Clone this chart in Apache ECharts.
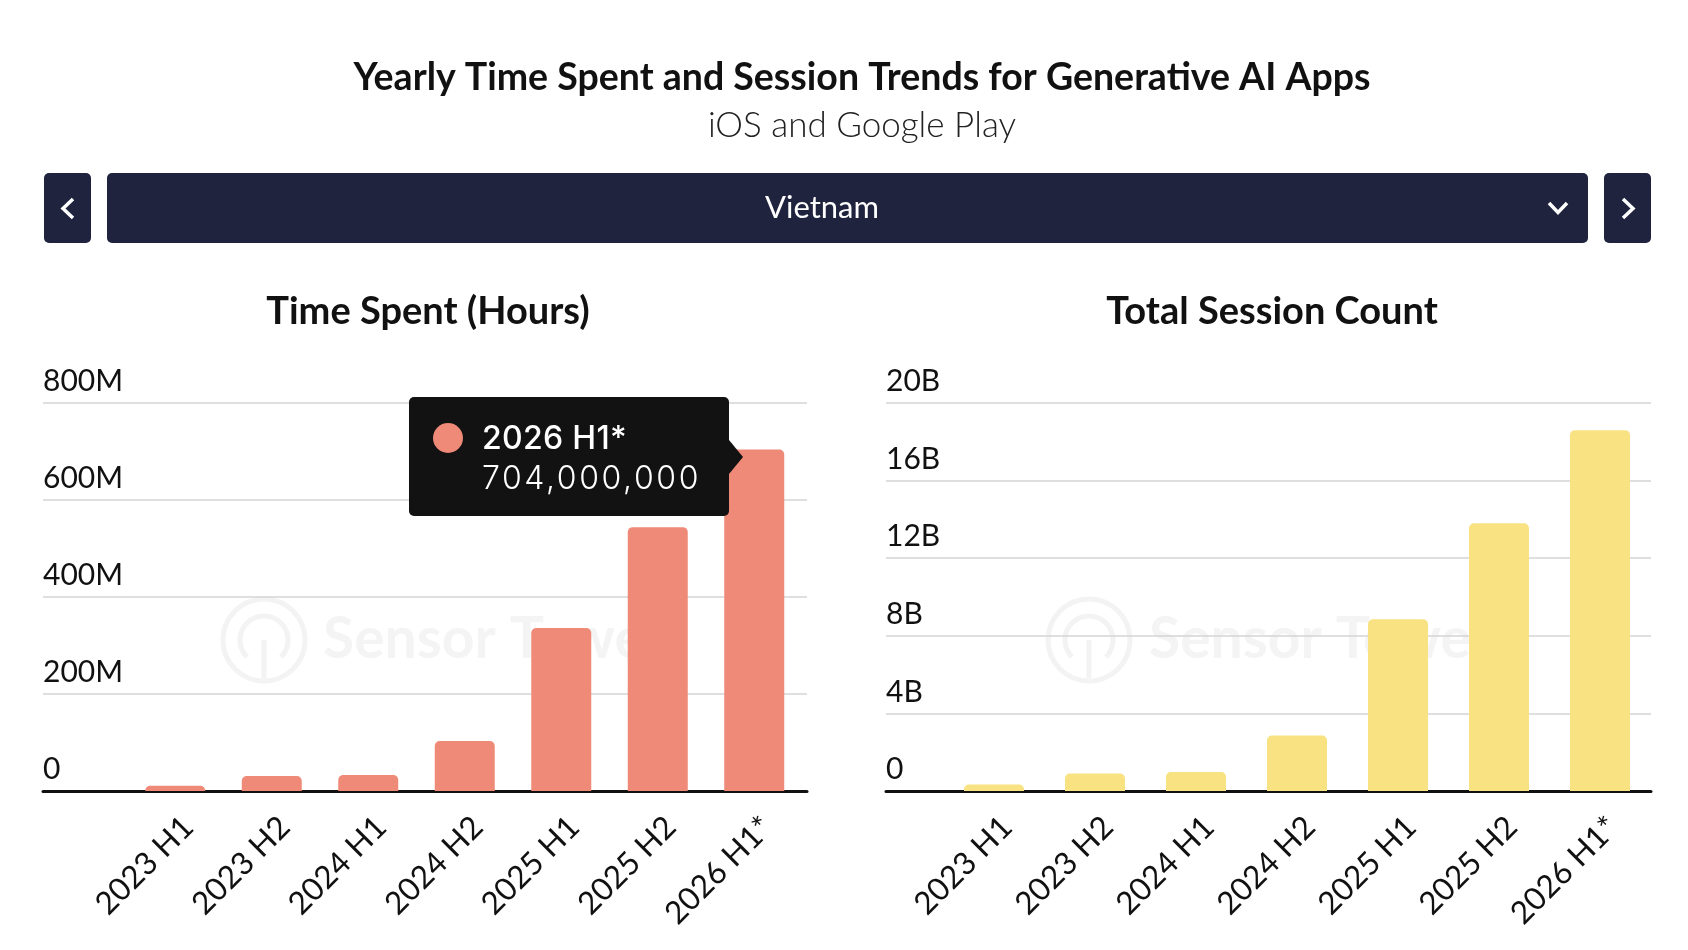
<!DOCTYPE html>
<html>
<head>
<meta charset="utf-8">
<script src="https://cdn.jsdelivr.net/npm/echarts@6/dist/echarts.min.js"></script>
<style>
html,body{margin:0;padding:0;background:#fff;}
#chart{width:1688px;height:950px;}
</style>
</head>
<body>
<div id="chart"></div>
<script>
// ---- data ----
const categories = ['2023 H1', '2023 H2', '2024 H1', '2024 H2', '2025 H1', '2025 H2', '2026 H1*'];
const timeSpentHours = [11e6, 31e6, 33e6, 103e6, 336e6, 544e6, 704e6];
const sessionCount = [0.33e9, 0.9e9, 0.98e9, 2.86e9, 8.85e9, 13.8e9, 18.6e9];
const timeAxis = { min: 0, max: 800e6, interval: 200e6 };
const sessionAxis = { min: 0, max: 20e9, interval: 4e9 };
const mainTitle = 'Yearly Time Spent and Session Trends for Generative AI Apps';
const subTitle = 'iOS and Google Play';
const leftTitle = 'Time Spent (Hours)';
const rightTitle = 'Total Session Count';
const regionName = 'Vietnam';

const FONT = 'Lato, "Source Sans Pro", sans-serif';
const salmon = '#ee8a77';
const yellow = '#f8e282';
const navy = '#1f233d';

const chart = echarts.init(document.getElementById('chart'), null, { renderer: 'canvas' });

const TOP = 403, HEIGHT = 388;

function bgY(ax, fmt) {
  return {
    type: 'value', min: ax.min, max: ax.max, interval: ax.interval,
    axisLine: { show: false }, axisTick: { show: false },
    splitLine: { show: true, lineStyle: { color: '#d5d5d5', width: 1.5 } },
    axisLabel: {
      inside: true, margin: 0, align: 'left', verticalAlign: 'bottom',
      lineHeight: 43, fontSize: 30, fontFamily: FONT, color: '#111',
      formatter: fmt
    }
  };
}
function hiddenY(ax, gi) {
  return { type: 'value', gridIndex: gi, min: ax.min, max: ax.max, interval: ax.interval, show: false };
}
function bgX(gi) {
  return {
    type: 'category', gridIndex: gi, data: categories,
    axisLine: { show: true, lineStyle: { color: '#111', width: 3 } },
    axisTick: { show: false }, axisLabel: { show: false }, splitLine: { show: false }
  };
}
function barX(gi) {
  return {
    type: 'category', gridIndex: gi, data: categories,
    axisLine: { show: false }, axisTick: { show: false }, axisLabel: { show: false }
  };
}
function labelX(gi) {
  return {
    type: 'category', gridIndex: gi, data: categories,
    axisLine: { show: false }, axisTick: { show: false },
    axisLabel: {
      show: true, rotate: 45, margin: 31, interval: 0,
      fontSize: 31.5, fontFamily: FONT, color: '#111'
    }
  };
}

const fmtM = v => v === 0 ? '0' : (v / 1e6) + 'M';
const fmtB = v => v === 0 ? '0' : (v / 1e9) + 'B';

const watermark = (cx, tx) => ([
  { type: 'circle', shape: { cx: cx, cy: 640, r: 41 }, style: { fill: 'none', stroke: '#f3f3f3', lineWidth: 5 }, z: -10 },
  { type: 'arc', shape: { cx: cx, cy: 640, r: 24, startAngle: Math.PI * 0.75, endAngle: Math.PI * 0.25 }, style: { fill: 'none', stroke: '#f3f3f3', lineWidth: 5 }, z: -10 },
  { type: 'line', shape: { x1: cx, y1: 640, x2: cx, y2: 678 }, style: { stroke: '#f3f3f3', lineWidth: 5 }, z: -10 },
  { type: 'text', x: tx, y: 640, style: { text: 'Sensor Tower', fontSize: 57, fontWeight: 'bold', fontFamily: FONT, fill: '#f4f4f4', textVerticalAlign: 'middle' }, z: -10 }
]);

const option = {
  animation: false,
  backgroundColor: '#fff',
  title: [
    { text: mainTitle, left: 862, top: 56, textAlign: 'center', padding: 0,
      textStyle: { fontFamily: FONT, fontWeight: 'bold', fontSize: 37.5, lineHeight: 44, color: '#111' } },
    { text: subTitle, left: 862, top: 106, textAlign: 'center', padding: 0,
      textStyle: { fontFamily: FONT, fontWeight: 300, fontSize: 35, lineHeight: 40, color: '#222' } },
    { text: leftTitle, left: 428, top: 290, textAlign: 'center', padding: 0,
      textStyle: { fontFamily: FONT, fontWeight: 'bold', fontSize: 38, lineHeight: 44, color: '#111' } },
    { text: rightTitle, left: 1272, top: 290, textAlign: 'center', padding: 0,
      textStyle: { fontFamily: FONT, fontWeight: 'bold', fontSize: 38, lineHeight: 44, color: '#111' } }
  ],
  graphic: [
    { type: 'rect', shape: { x: 44, y: 173, width: 47, height: 70, r: 5 }, style: { fill: navy } },
    { type: 'rect', shape: { x: 107, y: 173, width: 1481, height: 70, r: 5 }, style: { fill: navy } },
    { type: 'rect', shape: { x: 1604, y: 173, width: 47, height: 70, r: 5 }, style: { fill: navy } },
    { type: 'polyline', shape: { points: [[73, 199], [63, 208.5], [73, 218]] }, style: { stroke: '#fff', lineWidth: 3.5, fill: 'none' } },
    { type: 'polyline', shape: { points: [[1623, 199], [1633, 208.5], [1623, 218]] }, style: { stroke: '#fff', lineWidth: 3.5, fill: 'none' } },
    { type: 'polyline', shape: { points: [[1549, 203], [1558, 212.5], [1567, 203]] }, style: { stroke: '#fff', lineWidth: 3.5, fill: 'none' } },
    { type: 'text', x: 822, y: 208, style: { text: regionName, fontSize: 31, fontFamily: FONT, fill: '#fff', textAlign: 'center', textVerticalAlign: 'middle' } }
  ].concat(watermark(264, 323)).concat(watermark(1089, 1149)),
  grid: [
    { left: 43, right: 1688 - 807, top: TOP, height: HEIGHT },
    { left: 127, right: 1688 - 802.5, top: TOP, height: HEIGHT },
    { left: 140, right: 1688 - 815.5, top: TOP, height: HEIGHT },
    { left: 886, right: 37, top: TOP, height: HEIGHT },
    { left: 943.5, right: 37.5, top: TOP, height: HEIGHT },
    { left: 956.5, right: 24.5, top: TOP, height: HEIGHT }
  ],
  xAxis: [bgX(0), barX(1), labelX(2), bgX(3), barX(4), labelX(5)],
  yAxis: [
    Object.assign(bgY(timeAxis, fmtM), { gridIndex: 0 }),
    hiddenY(timeAxis, 1), hiddenY(timeAxis, 2),
    Object.assign(bgY(sessionAxis, fmtB), { gridIndex: 3 }),
    hiddenY(sessionAxis, 4), hiddenY(sessionAxis, 5)
  ],
  tooltip: {
    trigger: 'item', triggerOn: 'none', alwaysShowContent: true, transitionDuration: 0,
    padding: 0, backgroundColor: '#121212', borderWidth: 0, borderRadius: 5,
    extraCssText: 'box-shadow:none;overflow:visible;',
    position: function () { return [409, 397]; },
    formatter: function (p) {
      const val = Number(p.value).toLocaleString('en-US');
      return '<div style="position:relative;width:320px;height:119px;font-family:Inter,Lato,sans-serif;color:#fff;">' +
        '<span style="position:absolute;left:24px;top:26px;width:30px;height:30px;border-radius:50%;background:' + p.color + ';"></span>' +
        '<div style="position:absolute;left:73px;top:21px;font-size:32px;line-height:40px;font-weight:500;letter-spacing:0.3px;white-space:nowrap;">' + p.name + '</div>' +
        '<div style="position:absolute;left:73px;top:61px;font-size:32px;line-height:40px;font-weight:300;letter-spacing:2.6px;white-space:nowrap;">' + val + '</div>' +
        '<div style="position:absolute;left:320px;top:43px;width:0;height:0;border-top:17px solid transparent;border-bottom:17px solid transparent;border-left:14px solid #121212;"></div>' +
        '</div>';
    }
  },
  series: [
    { name: leftTitle, type: 'bar', xAxisIndex: 1, yAxisIndex: 1, data: timeSpentHours, barWidth: 60,
      itemStyle: { color: salmon, borderRadius: [5, 5, 0, 0] } },
    { name: rightTitle, type: 'bar', xAxisIndex: 4, yAxisIndex: 4, data: sessionCount, barWidth: 60,
      itemStyle: { color: yellow, borderRadius: [5, 5, 0, 0] } }
  ]
};

chart.setOption(option);
chart.dispatchAction({ type: 'showTip', seriesIndex: 0, dataIndex: 6 });
</script>
</body>
</html>
